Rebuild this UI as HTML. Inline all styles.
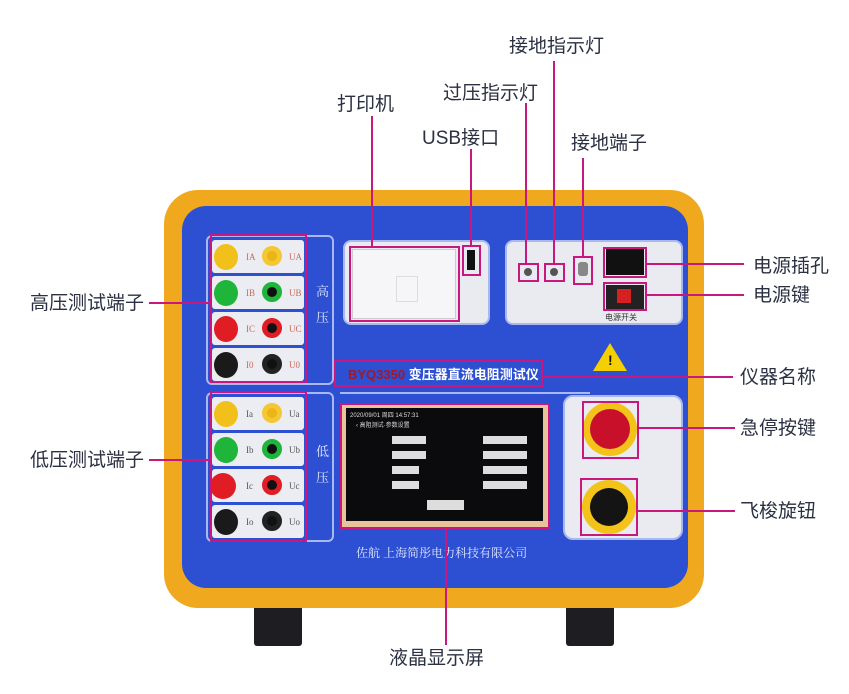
<!DOCTYPE html>
<html><head><meta charset="utf-8"><style>
*{margin:0;padding:0;box-sizing:border-box}
body{width:849px;height:694px;background:#fff;position:relative;overflow:hidden;font-family:"Liberation Sans","Noto Sans CJK SC",sans-serif}
.a{position:absolute}
.lbl{position:absolute;font-size:19px;color:#2b3042;white-space:nowrap;line-height:1}
.pk{position:absolute;border:2px solid #c8177e}
.hl{position:absolute;height:2px;background:#c8177e}
.vl{position:absolute;width:2px;background:#c8177e}
.row{position:absolute;left:0;width:92px;height:33px;background:#ecedf2;border-radius:3px}
.t{position:absolute;border-radius:50%}
.tx{position:absolute;font-size:9px;color:#c86a5a;font-family:"Liberation Serif",serif}
</style></head><body>
<!-- feet -->
<div class="a" style="left:254px;top:590px;width:48px;height:56px;background:#1e1e22;border-radius:3px"></div>
<div class="a" style="left:566px;top:590px;width:48px;height:56px;background:#1e1e22;border-radius:3px"></div>
<div class="a" style="left:320px;top:592px;width:70px;height:14px;background:#222"></div>
<div class="a" style="left:480px;top:592px;width:70px;height:14px;background:#222"></div>
<!-- case -->
<div class="a" style="left:164px;top:190px;width:540px;height:418px;background:#f0a91e;border-radius:34px"></div>
<div class="a" style="left:182px;top:206px;width:506px;height:382px;background:#2d4fd2;border-radius:24px"></div>
<!-- left panel outlines -->
<div class="a" style="left:206px;top:235px;width:128px;height:150px;border:2px solid #a9b9f0;border-radius:6px"></div>
<div class="a" style="left:206px;top:392px;width:128px;height:150px;border:2px solid #a9b9f0;border-radius:6px"></div>
<div class="a" style="left:316px;top:278px;font-size:13px;color:#dfe6ff;font-family:'Noto Serif CJK SC',serif;line-height:26px;width:12px">高<br>压</div>
<div class="a" style="left:316px;top:438px;font-size:13px;color:#dfe6ff;font-family:'Noto Serif CJK SC',serif;line-height:26px;width:12px">低<br>压</div>
<!-- terminals high -->
<div class="a" style="left:212px;top:240px;width:94px;height:142px">
 <div class="row" style="top:0"></div><div class="row" style="top:36px"></div><div class="row" style="top:72px"></div><div class="row" style="top:108px"></div>
 <div class="t" style="left:2px;top:4px;width:24px;height:26px;background:#f2c01a"></div><div class="t" style="left:50px;top:6px;width:20px;height:20px;background:#eab515;border:5px solid #f4c835"></div>
 <div class="t" style="left:2px;top:40px;width:24px;height:26px;background:#1fb43a"></div><div class="t" style="left:50px;top:42px;width:20px;height:20px;background:#111;border:5px solid #1fb43a"></div>
 <div class="t" style="left:2px;top:76px;width:24px;height:26px;background:#e01d24"></div><div class="t" style="left:50px;top:78px;width:20px;height:20px;background:#111;border:5px solid #e01d24"></div>
 <div class="t" style="left:2px;top:112px;width:24px;height:26px;background:#1a1a1a"></div><div class="t" style="left:50px;top:114px;width:20px;height:20px;background:#111;border:5px solid #222"></div>
 <div class="tx" style="left:34px;top:12px">IA</div><div class="tx" style="left:77px;top:12px">UA</div>
 <div class="tx" style="left:34px;top:48px">IB</div><div class="tx" style="left:77px;top:48px">UB</div>
 <div class="tx" style="left:34px;top:84px">IC</div><div class="tx" style="left:77px;top:84px">UC</div>
 <div class="tx" style="left:34px;top:120px">I0</div><div class="tx" style="left:77px;top:120px">U0</div>
</div>
<div class="a" style="left:212px;top:397px;width:94px;height:142px">
 <div class="row" style="top:0"></div><div class="row" style="top:36px"></div><div class="row" style="top:72px"></div><div class="row" style="top:108px"></div>
 <div class="t" style="left:2px;top:4px;width:24px;height:26px;background:#f2c01a"></div><div class="t" style="left:50px;top:6px;width:20px;height:20px;background:#eab515;border:5px solid #f4c835"></div>
 <div class="t" style="left:2px;top:40px;width:24px;height:26px;background:#1fb43a"></div><div class="t" style="left:50px;top:42px;width:20px;height:20px;background:#111;border:5px solid #1fb43a"></div>
 <div class="t" style="left:-2px;top:76px;width:26px;height:26px;background:#e01d24"></div><div class="t" style="left:50px;top:78px;width:20px;height:20px;background:#111;border:5px solid #e01d24"></div>
 <div class="t" style="left:2px;top:112px;width:24px;height:26px;background:#1a1a1a"></div><div class="t" style="left:50px;top:114px;width:20px;height:20px;background:#111;border:5px solid #222"></div>
 <div class="tx" style="left:34px;top:12px;color:#555">Ia</div><div class="tx" style="left:77px;top:12px;color:#555">Ua</div>
 <div class="tx" style="left:34px;top:48px;color:#555">Ib</div><div class="tx" style="left:77px;top:48px;color:#555">Ub</div>
 <div class="tx" style="left:34px;top:84px;color:#555">Ic</div><div class="tx" style="left:77px;top:84px;color:#555">Uc</div>
 <div class="tx" style="left:34px;top:120px;color:#555">Io</div><div class="tx" style="left:77px;top:120px;color:#555">Uo</div>
</div>
<!-- printer panel -->
<div class="a" style="left:343px;top:240px;width:147px;height:85px;background:#e9ebf0;border:2px solid #a9b9f0;border-radius:8px"></div>
<div class="a" style="left:352px;top:249px;width:104px;height:70px;background:#f6f6f8;border:1px solid #ccc"></div>
<div class="a" style="left:396px;top:276px;width:22px;height:26px;border:1px solid #ddd"></div>
<!-- right top panel -->
<div class="a" style="left:505px;top:240px;width:178px;height:85px;background:#e9ebf0;border:2px solid #a9b9f0;border-radius:8px"></div>
<div class="a" style="left:606px;top:249px;width:38px;height:26px;background:#111"></div>
<div class="a" style="left:606px;top:285px;width:38px;height:24px;background:#222"></div>
<div class="a" style="left:617px;top:289px;width:14px;height:14px;background:#d42020"></div>
<div class="a" style="left:605px;top:312px;font-size:8px;color:#333">电源开关</div>
<div class="a" style="left:524px;top:268px;width:8px;height:8px;border-radius:50%;background:#555"></div>
<div class="a" style="left:550px;top:268px;width:8px;height:8px;border-radius:50%;background:#555"></div>
<div class="a" style="left:578px;top:262px;width:10px;height:14px;border-radius:3px;background:#888"></div>
<!-- warning -->
<div class="a" style="left:593px;top:343px;width:0;height:0;border-left:17px solid transparent;border-right:17px solid transparent;border-bottom:28px solid #f5d000"></div>
<div class="a" style="left:608px;top:352px;font-size:14px;font-weight:bold;color:#111">!</div>
<!-- name -->
<div class="a" style="left:348px;top:364px;font-size:13px;font-weight:bold;white-space:nowrap"><span style="color:#a0182a">BYQ3350</span> <span style="color:#fff">变压器直流电阻测试仪</span></div>
<div class="a" style="left:340px;top:392px;width:250px;height:2px;background:#a9b9f0"></div>
<!-- screen -->
<div class="a" style="left:340px;top:403px;width:209px;height:125px;background:#e9c49a;border-radius:3px"></div>
<div class="a" style="left:346px;top:408px;width:197px;height:113px;background:#0b0b0e"></div>
<div class="a" style="left:350px;top:410px;font-size:6px;color:#ddd;white-space:nowrap">2020/09/01 周四 14:57:31</div>
<div class="a" style="left:356px;top:420px;font-size:6px;color:#ddd">‹ 高阻测试·参数设置</div>
<div class="a" style="left:392px;top:436px;width:34px;height:8px;background:#ddd"></div>
<div class="a" style="left:392px;top:451px;width:34px;height:8px;background:#ddd"></div>
<div class="a" style="left:392px;top:466px;width:27px;height:8px;background:#ddd"></div>
<div class="a" style="left:392px;top:481px;width:27px;height:8px;background:#ddd"></div>
<div class="a" style="left:483px;top:436px;width:44px;height:8px;background:#ddd"></div>
<div class="a" style="left:483px;top:451px;width:44px;height:8px;background:#ddd"></div>
<div class="a" style="left:483px;top:466px;width:44px;height:8px;background:#ddd"></div>
<div class="a" style="left:483px;top:481px;width:44px;height:8px;background:#ddd"></div>
<div class="a" style="left:427px;top:500px;width:37px;height:10px;background:#ddd"></div>
<!-- right lower panel -->
<div class="a" style="left:563px;top:395px;width:120px;height:145px;background:#e9ebf0;border:2px solid #a9b9f0;border-radius:10px"></div>
<div class="a" style="left:583px;top:402px;width:54px;height:54px;border-radius:50%;background:#f3c31a"></div>
<div class="a" style="left:590px;top:409px;width:40px;height:40px;border-radius:50%;background:#c8102a"></div>
<div class="a" style="left:582px;top:480px;width:54px;height:54px;border-radius:50%;background:#f3c31a"></div>
<div class="a" style="left:590px;top:488px;width:38px;height:38px;border-radius:50%;background:#141414"></div>
<!-- company -->
<div class="a" style="left:356px;top:544px;font-size:12px;color:#dfe6ff;font-family:'Noto Serif CJK SC',serif;white-space:nowrap">佐航 上海简彤电力科技有限公司</div>
<!-- pink boxes -->
<div class="pk" style="left:210px;top:234px;width:97px;height:149px"></div>
<div class="pk" style="left:210px;top:391px;width:97px;height:151px"></div>
<div class="pk" style="left:349px;top:246px;width:111px;height:76px"></div>
<div class="pk" style="left:462px;top:245px;width:19px;height:31px"></div>
<div class="a" style="left:467px;top:250px;width:8px;height:20px;background:#111"></div>
<div class="pk" style="left:518px;top:263px;width:21px;height:19px"></div>
<div class="pk" style="left:544px;top:263px;width:21px;height:19px"></div>
<div class="pk" style="left:573px;top:256px;width:20px;height:29px"></div>
<div class="pk" style="left:603px;top:247px;width:44px;height:31px"></div>
<div class="pk" style="left:603px;top:282px;width:44px;height:29px"></div>
<div class="pk" style="left:334px;top:360px;width:209px;height:27px"></div>
<div class="pk" style="left:340px;top:403px;width:210px;height:126px"></div>
<div class="pk" style="left:582px;top:401px;width:57px;height:58px"></div>
<div class="pk" style="left:580px;top:478px;width:58px;height:58px"></div>
<!-- lines -->
<div class="vl" style="left:371px;top:116px;height:131px"></div>
<div class="vl" style="left:470px;top:149px;height:97px"></div>
<div class="vl" style="left:525px;top:103px;height:161px"></div>
<div class="vl" style="left:553px;top:61px;height:203px"></div>
<div class="vl" style="left:582px;top:158px;height:99px"></div>
<div class="vl" style="left:445px;top:528px;height:117px"></div>
<div class="hl" style="left:149px;top:302px;width:62px"></div>
<div class="hl" style="left:149px;top:459px;width:62px"></div>
<div class="hl" style="left:646px;top:263px;width:98px"></div>
<div class="hl" style="left:646px;top:294px;width:98px"></div>
<div class="hl" style="left:543px;top:376px;width:190px"></div>
<div class="hl" style="left:639px;top:427px;width:96px"></div>
<div class="hl" style="left:638px;top:510px;width:97px"></div>
<!-- labels -->
<div class="lbl" style="left:509px;top:37px">接地指示灯</div>
<div class="lbl" style="left:443px;top:84px">过压指示灯</div>
<div class="lbl" style="left:337px;top:95px">打印机</div>
<div class="lbl" style="left:422px;top:129px">USB接口</div>
<div class="lbl" style="left:571px;top:134px">接地端子</div>
<div class="lbl" style="left:30px;top:294px">高压测试端子</div>
<div class="lbl" style="left:30px;top:451px">低压测试端子</div>
<div class="lbl" style="left:753px;top:257px">电源插孔</div>
<div class="lbl" style="left:753px;top:286px">电源键</div>
<div class="lbl" style="left:740px;top:368px">仪器名称</div>
<div class="lbl" style="left:740px;top:419px">急停按键</div>
<div class="lbl" style="left:740px;top:502px">飞梭旋钮</div>
<div class="lbl" style="left:389px;top:649px">液晶显示屏</div>
</body></html>
